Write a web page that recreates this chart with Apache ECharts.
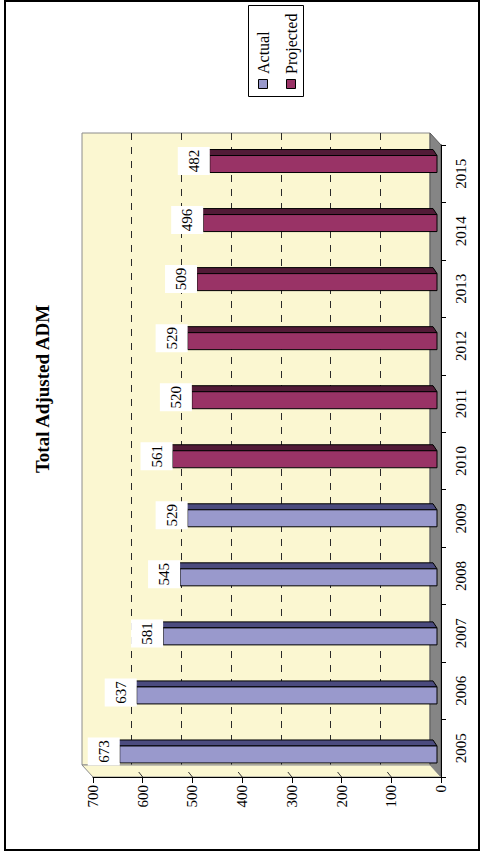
<!DOCTYPE html>
<html>
<head>
<meta charset="utf-8">
<script src="https://cdn.jsdelivr.net/npm/echarts@6/dist/echarts.min.js"></script>
<style>
  html, body { margin: 0; padding: 0; background: #fff; }
  #chart { width: 482px; height: 854px; }
</style>
</head>
<body>
<div id="chart"></div>
<script>
// ---- data ----
const years = ['2005', '2006', '2007', '2008', '2009', '2010', '2011', '2012', '2013', '2014', '2015'];
const actual = [673, 637, 581, 545, 529, null, null, null, null, null, null];
const projected = [null, null, null, null, null, 561, 520, 529, 509, 496, 482];
const seriesNames = ['Actual', 'Projected'];
const chartTitle = 'Total Adjusted ADM';
const valueMin = 0, valueMax = 700, valueStep = 100;

// ---- styling ----
const FONT = '"Liberation Serif", "Times New Roman", serif';
const FILL = {
  Actual: { front: '#9999CC', top: '#4B4B7E' },
  Projected: { front: '#993366', top: '#521B37' }
};
const WALL_COLOR = '#FBF7D1';

// the chart is laid on its side: values run right-to-left, years bottom-to-top
const W = 482, H = 854;
const wallBox = { left: 82, right: 430, top: 133, bottom: 765 };
const barBox = { left: 107, right: 437, top: 131.5, bottom: 781 };
const axisBox = { left: 93, right: 441, top: 145, bottom: 777 };

function gridOf(b) {
  return { left: b.left, right: W - b.right, top: b.top, bottom: H - b.bottom, containLabel: false };
}

function toItems(values) {
  const out = [];
  values.forEach((v, i) => { if (v != null) out.push([v, i]); });
  return out;
}

function renderBar(name) {
  const c = FILL[name];
  return function (params, api) {
    const v = api.value(0);
    const idx = api.value(1);
    const pEnd = api.coord([v, idx]);
    const p0 = api.coord([0, idx]);
    const cy = pEnd[1];
    const xEnd = pEnd[0], x0 = p0[0];
    const depth = 4;
    return {
      type: 'group',
      children: [
        {
          type: 'polygon',
          shape: { points: [[xEnd, cy - 5.5], [x0, cy - 5.5], [x0 - depth, cy - 11.5], [xEnd - depth, cy - 11.5]] },
          style: { fill: c.top, stroke: '#000', lineWidth: 1 }
        },
        {
          type: 'rect',
          shape: { x: xEnd, y: cy - 5.5, width: x0 - xEnd, height: 17 },
          style: { fill: c.front, stroke: '#000', lineWidth: 1 }
        },
        {
          type: 'rect',
          shape: { x: xEnd - 32, y: cy - 14, width: 32, height: 28 },
          style: { fill: '#fff' }
        },
        {
          type: 'text',
          x: xEnd - 16, y: cy, rotation: Math.PI / 2,
          style: {
            text: String(v), fill: '#000', font: '15px ' + FONT,
            align: 'center', verticalAlign: 'middle'
          }
        }
      ]
    };
  };
}

const chart = echarts.init(document.getElementById('chart'), null, { renderer: 'svg', width: W, height: H });

const hiddenValueAxis = {
  type: 'value', min: valueMin, max: valueMax, interval: valueStep, inverse: true,
  axisLabel: { show: false }, axisLine: { show: false }, axisTick: { show: false }
};

chart.setOption({
  animation: false,
  backgroundColor: '#fff',
  grid: [
    Object.assign(gridOf(wallBox), { show: true, backgroundColor: WALL_COLOR, borderColor: '#8C8C8C', borderWidth: 1 }),
    gridOf(barBox),
    gridOf(axisBox)
  ],
  xAxis: [
    Object.assign({}, hiddenValueAxis, {
      gridIndex: 0,
      splitLine: {
        show: true, showMinLine: false, showMaxLine: false,
        lineStyle: { color: '#2a2a2a', width: 1, type: [7, 7] }
      }
    }),
    Object.assign({}, hiddenValueAxis, { gridIndex: 1, splitLine: { show: false } }),
    {
      type: 'value', gridIndex: 2, min: valueMin, max: valueMax, interval: valueStep, inverse: true,
      position: 'bottom', z: 5,
      axisLine: { show: true, lineStyle: { color: '#000', width: 1 } },
      axisTick: { show: true, length: 6, lineStyle: { color: '#000' } },
      axisLabel: { rotate: 90, margin: 8, fontSize: 15, fontFamily: FONT, color: '#000' },
      splitLine: { show: false }
    }
  ],
  yAxis: [
    { type: 'category', gridIndex: 0, data: years, show: false },
    { type: 'category', gridIndex: 1, data: years, show: false },
    {
      type: 'category', gridIndex: 2, data: years, position: 'right', z: 5,
      axisLine: { show: true, lineStyle: { color: '#000', width: 1 } },
      axisTick: { show: true, length: 5, lineStyle: { color: '#000' } },
      axisLabel: { rotate: 90, margin: 12, fontSize: 15, fontFamily: FONT, color: '#000' },
      splitLine: { show: false }
    }
  ],
  series: [
    {
      name: seriesNames[0], type: 'custom', xAxisIndex: 1, yAxisIndex: 1, z: 10,
      encode: { x: 0, y: 1 }, data: toItems(actual), renderItem: renderBar('Actual'), silent: true
    },
    {
      name: seriesNames[1], type: 'custom', xAxisIndex: 1, yAxisIndex: 1, z: 10,
      encode: { x: 0, y: 1 }, data: toItems(projected), renderItem: renderBar('Projected'), silent: true
    }
  ]
});

// 3-D frame: side panel, floor and the floor's tick traces
const px = v => chart.convertToPixel({ xAxisIndex: 2 }, v);
const floorMarks = [];
for (let v = valueMin + valueStep; v < valueMax; v += valueStep) {
  const x = px(v);
  floorMarks.push({
    type: 'line', z: 3, silent: true,
    shape: { x1: x - 4, y1: axisBox.bottom - 5, x2: x, y2: axisBox.bottom },
    style: { stroke: '#333', lineWidth: 1 }
  });
}

chart.setOption({
  graphic: [
    {
      type: 'polygon', z: 2, silent: true,
      shape: { points: [[wallBox.right, wallBox.top], [axisBox.right, axisBox.top], [axisBox.right, axisBox.bottom], [wallBox.right, wallBox.bottom]] },
      style: { fill: '#858585', stroke: '#5a5a5a', lineWidth: 1 }
    },
    {
      type: 'polygon', z: 2, silent: true,
      shape: { points: [[wallBox.left, wallBox.bottom], [wallBox.right, wallBox.bottom], [axisBox.right, axisBox.bottom], [axisBox.left, axisBox.bottom]] },
      style: { fill: WALL_COLOR, stroke: '#8C8C8C', lineWidth: 1 }
    },
    ...floorMarks,
    {
      type: 'text', z: 20, x: 42, y: 389, rotation: Math.PI / 2,
      style: { text: chartTitle, fill: '#000', font: 'bold 19px ' + FONT, align: 'center', verticalAlign: 'middle' }
    },
    {
      type: 'group', z: 20,
      children: [
        { type: 'rect', shape: { x: 248.5, y: 5.5, width: 55, height: 91 }, style: { fill: '#fff', stroke: '#000', lineWidth: 1 } },
        { type: 'rect', shape: { x: 258.5, y: 79.5, width: 9, height: 9 }, style: { fill: FILL.Actual.front, stroke: '#000', lineWidth: 1 } },
        { type: 'rect', shape: { x: 286.5, y: 79.5, width: 9, height: 9 }, style: { fill: FILL.Projected.front, stroke: '#000', lineWidth: 1 } },
        {
          type: 'text', x: 263, y: 74, rotation: Math.PI / 2,
          style: { text: seriesNames[0], fill: '#000', font: '16px ' + FONT, align: 'left', verticalAlign: 'middle' }
        },
        {
          type: 'text', x: 291, y: 74, rotation: Math.PI / 2,
          style: { text: seriesNames[1], fill: '#000', font: '16px ' + FONT, align: 'left', verticalAlign: 'middle' }
        }
      ]
    },
    {
      type: 'rect', z: 30, silent: true,
      shape: { x: 5, y: 1, width: 474, height: 849 },
      style: { fill: 'none', stroke: '#000', lineWidth: 2 }
    }
  ]
});
</script>
</body>
</html>
